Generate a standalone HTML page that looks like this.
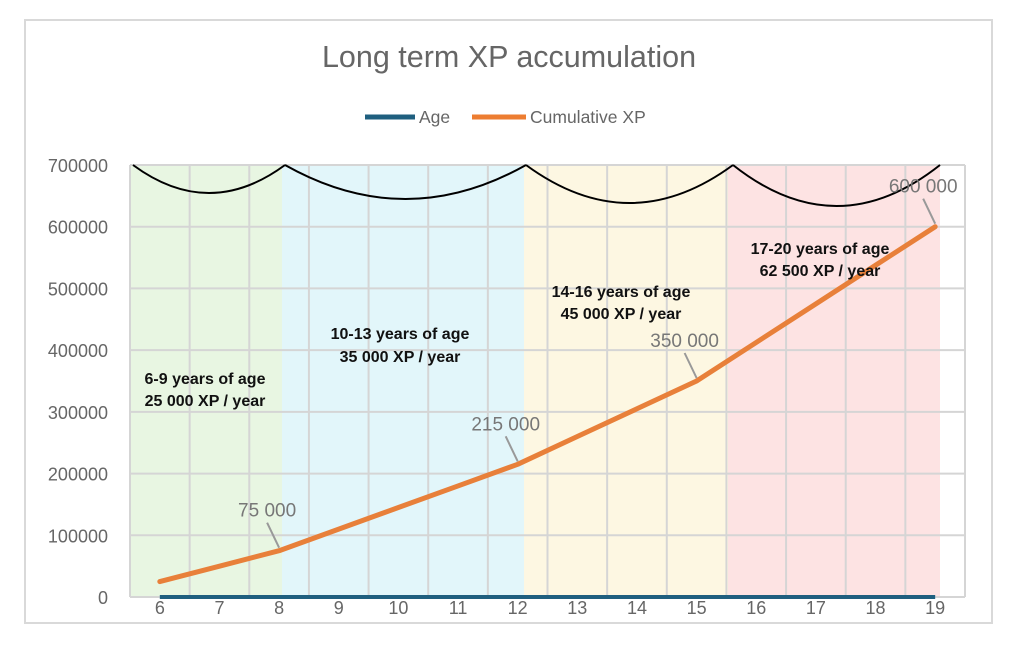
<!DOCTYPE html>
<html><head><meta charset="utf-8"><style>
body{margin:0;background:#fff;}
svg{display:block;font-family:"Liberation Sans",sans-serif;}
</style></head><body>
<svg id="chart" width="1024" height="647">
<rect x="25" y="20" width="967" height="603" fill="#fff" stroke="#d9d9d9" stroke-width="2"/>
<text x="509" y="67" text-anchor="middle" font-size="30.5" fill="#666">Long term XP accumulation</text>
<g>
<line x1="365" y1="117" x2="415" y2="117" stroke="#1F5F7F" stroke-width="5"/>
<text x="419" y="123" font-size="17.5" fill="#666">Age</text>
<line x1="472" y1="117" x2="526" y2="117" stroke="#ED7D31" stroke-width="5"/>
<text x="530" y="123" font-size="17.5" fill="#666">Cumulative XP</text>
</g>
<g id="bands"></g>
<g id="grid"></g>
<g id="arcs"></g>
<g id="series"></g>
<g id="labels"></g>
<g id="notes" font-weight="bold" font-size="16" fill="#111" text-anchor="middle">
<text x="205" y="384">6-9 years of age</text>
<text x="205" y="406">25 000 XP / year</text>
<text x="400" y="339">10-13 years of age</text>
<text x="400" y="362">35 000 XP / year</text>
<text x="621" y="297">14-16 years of age</text>
<text x="621" y="319">45 000 XP / year</text>
<text x="820" y="254">17-20 years of age</text>
<text x="820" y="276">62 500 XP / year</text>
</g>
</svg>
<script>
const categories=[6,7,8,9,10,11,12,13,14,15,16,17,18,19];
const xpValues=[25000,50000,75000,110000,145000,180000,215000,260000,305000,350000,412500,475000,537500,600000];
const ageValues=[0,0,0,0,0,0,0,0,0,0,0,0,0,0];
const yTicks=[0,100000,200000,300000,400000,500000,600000,700000];
const labelIdx=[2,6,9,13];
const labelText=["75 000","215 000","350 000","600 000"];
const L=130,R=965,T=165,B=597,yMax=700000;
const cw=(R-L)/categories.length;
const x=i=>L+cw*(i+0.5);
const y=v=>B-(v/yMax)*(B-T);
const NS="http://www.w3.org/2000/svg";
function mk(tag,attrs,parent){const e=document.createElementNS(NS,tag);for(const k in attrs)e.setAttribute(k,attrs[k]);document.getElementById(parent).appendChild(e);return e;}
const bands=[[130,282,"#e8f6e2"],[282,524,"#e2f6fa"],[524,728,"#fdf7e2"],[728,940,"#fde3e3"]];
bands.forEach((b,i)=>{const r=mk('rect',{x:b[0],y:T,width:b[1]-b[0],height:B-T,fill:b[2]},'bands');

});
yTicks.forEach(v=>{const l=mk('line',{x1:L,x2:R,y1:y(v),y2:y(v),stroke:"#d5d5d5","stroke-width":2},'grid');


const t=mk('text',{x:108,y:y(v)+7,"text-anchor":"end","font-size":18,fill:"#666"},'grid');t.textContent=v;

});
for(let i=0;i<=categories.length;i++){const l=mk('line',{x1:L+cw*i,x2:L+cw*i,y1:T,y2:B,stroke:"#d5d5d5","stroke-width":2},'grid');

}
categories.forEach((c,i)=>{const t=mk('text',{x:x(i),y:614,"text-anchor":"middle","font-size":18,fill:"#666"},'grid');t.textContent=c;

});
const arcs=[[133,285,193],[285,526,199],[526,733,203],[733,940,206]];
arcs.forEach(a=>{const mid=(a[0]+a[1])/2;const p=mk('path',{d:`M${a[0]},${T} Q${mid},${2*a[2]-T} ${a[1]},${T}`,fill:"none",stroke:"#000","stroke-width":2},'arcs');

});
const age=mk('polyline',{points:ageValues.map((v,i)=>x(i)+','+y(v)).join(' '),fill:"none",stroke:"#1F5F7F","stroke-width":4},'series');


const xp=mk('polyline',{points:xpValues.map((v,i)=>x(i)+','+y(v)).join(' '),fill:"none",stroke:"#E8803A","stroke-width":5,"stroke-linejoin":"round","stroke-linecap":"round"},'series');


labelIdx.forEach((idx,k)=>{const px=x(idx),py=y(xpValues[idx]);
const ld=mk('line',{x1:px,y1:py-3,x2:px-12,y2:py-28,stroke:"#999","stroke-width":2},'labels');


const t=mk('text',{x:px-12,y:py-34,"text-anchor":"middle","font-size":19,fill:"#777"},'labels');t.textContent=labelText[k];

});
</script>
</body></html>
